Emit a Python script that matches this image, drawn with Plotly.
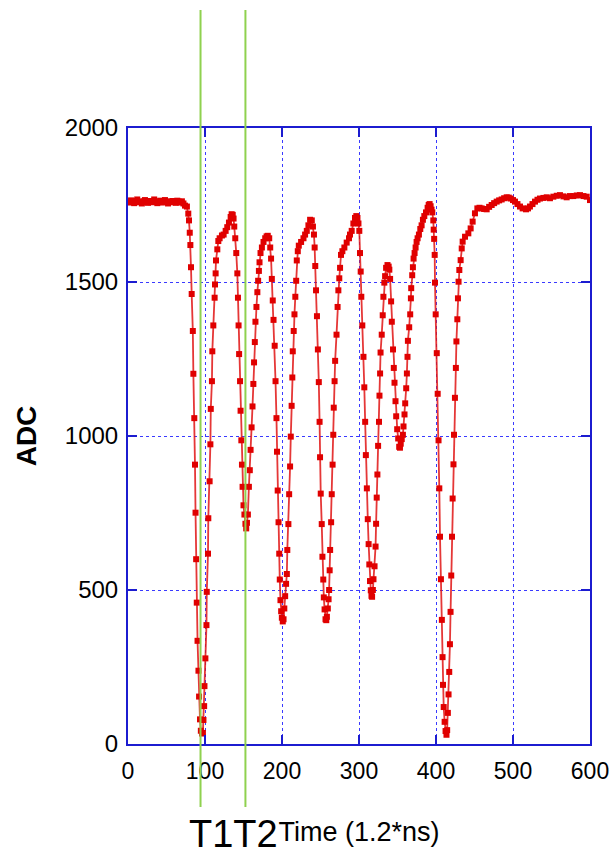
import plotly.graph_objects as go

# ---- data ----
base_x = [0, 2, 4, 6, 8, 10, 12, 14, 16, 18, 20, 22, 24, 26, 28, 30, 32, 34, 36, 38,
          40, 42, 44, 46, 48, 50, 52, 54, 56, 58, 60, 62, 64, 66, 68, 70, 72, 74]
base_y = [1762, 1758, 1765, 1760, 1756, 1763, 1768, 1759, 1761, 1755, 1762, 1766, 1760, 1757,
          1763, 1759, 1761, 1768, 1760, 1756, 1762, 1764, 1758, 1761, 1766, 1760, 1755, 1762,
          1759, 1763, 1760, 1757, 1764, 1761, 1758, 1762, 1755, 1748]

pulse_x = [76.5, 78.3, 79.2, 80.2, 81, 81.8, 82.7, 84.2, 84.9, 86.1, 87, 87.7, 88.5, 89.3, 90.3,
           91.5, 92.3, 93.5, 94.6, 96.2, 97.3, 98, 98.9, 99.3, 100.5, 101.9, 102.3, 103.9, 104.3,
           106, 107, 107.5, 109, 109.5, 110.8, 112.5, 113, 113.8, 114.3, 116, 117.3, 119, 122,
           124.2, 126.8, 128.9, 131.1, 133.3, 134.6, 136, 137.1, 138, 139.3, 140.6, 142, 142.8,
           143.6, 144.3, 145.5, 146.2, 147.2, 148, 148.8, 150, 151.2, 152.5, 153.5, 154.5, 155.7,
           157, 158.2, 159.2, 160.5, 161.7, 162.8, 163.7, 164.7, 165.5, 166.8, 168, 169, 170,
           170.8, 172.1, 173.9, 176, 178.2, 180, 181.5, 183.4, 184.7, 185.8, 186.8, 188, 189,
           190.5, 191.6, 192.8, 193.5, 194.4, 195.5, 196.4, 197.1, 198, 198.9, 199.8, 201, 202,
           203, 204.1, 205.3, 206.3, 206.9, 208.3, 209.3, 210.5, 211.4, 212.5, 213.4, 214, 215.2,
           216.2, 217.3, 218.4, 219.2, 220.5, 221.8, 224.8, 227.9, 230, 232.2, 234.3, 236.5,
           238.7, 240.2, 241.5, 242.4, 243.2, 244.2, 245.4, 246.6, 247.8, 248.8, 249.4, 250.3,
           251.6, 252.5, 253.6, 254.3, 255.3, 256.5, 257.5, 258.3, 259.5, 260.5, 261.2, 261.9,
           262.5, 263.8, 264.6, 265.7, 266.6, 267.2, 268.3, 269, 270.8, 272.2, 273.2, 274.4,
           275.4, 276.6, 278.4, 281, 284, 287, 288.3, 290.5, 292.7, 294.8, 296.5, 298, 299.3,
           300.4, 301.3, 302.2, 303, 304.3, 305.8, 306.9, 308, 308.9, 310.2, 311.4, 312.5, 313.4,
           314.3, 315.3, 316.2, 317, 318, 318.8, 320.2, 321.5, 322.2, 323, 323.9, 324.8, 326,
           326.6, 327.4, 328, 329.5, 330.8, 331.7, 332.9, 333.9, 335.2, 337, 338.5, 339.4, 340.4,
           341.7, 342.6, 344.2, 345.2, 346.1, 347.4, 348.3, 349.6, 350.9, 352.2, 353.2, 354.2,
           355.5, 357, 357.8, 359.1, 360, 361.3, 362.2, 363, 363.5, 365.2, 366.5, 367.4, 367.8,
           369.1, 370, 370.9, 372.2, 373.5, 374.8, 376.1, 377.8, 379.6, 381.3, 383, 384.8, 387,
           389.1, 390.5, 391.7, 393, 394.2, 395.2, 396.5, 397, 397.6, 398.3, 398.7, 399.6, 401,
           402.2, 403.3, 404.3, 405.2, 406.4, 407.6, 408.5, 409.1, 410, 411.2, 412.4, 413.6,
           414.5, 415.4, 416.3, 417.2, 418.1, 418.9, 419.8, 420.8, 421.6, 422.7, 423.4, 424.6,
           425.8, 426.5, 427.7, 428.5, 429.3, 430.3, 432, 433.4, 434.6, 437.7, 442, 445, 447.6,
           450.6, 453.7, 456.5, 459.3, 462.5, 465.8, 469, 472.3, 475.5, 478.8, 482, 485.3, 488.5,
           491.8, 494.5, 497, 500, 502.6, 505.8, 509.1, 512.5, 516.9, 519.5, 522, 525.3, 528.6,
           531.8, 535, 539.5, 543.8, 548, 552.4, 556.8, 561, 565.5, 569.7, 574, 578.4, 582.8,
           587, 591.5, 595.7, 600]
pulse_y = [1745, 1722, 1700, 1660, 1620, 1548, 1461, 1341, 1202, 1058, 907, 751, 600, 459, 335,
           238, 154, 80, 43, 34, 36, 78, 123, 188, 278, 386, 494, 618, 733,
           853, 973, 1088, 1178, 1275, 1359, 1449, 1492, 1528, 1570, 1606, 1633, 1642, 1651,
           1654, 1666, 1678, 1693, 1711, 1720, 1718, 1706, 1680, 1642, 1594, 1528, 1449,
           1359, 1266, 1178, 1082, 986, 907, 835, 775, 745, 715, 700, 718, 745,
           835, 889, 955, 1028, 1096, 1169, 1239, 1305, 1371, 1419, 1467, 1504, 1536,
           1564, 1594, 1612, 1630, 1642, 1648, 1650, 1642, 1612, 1576, 1510, 1440, 1377,
           1293, 1178, 1058, 949, 823, 720, 618, 534, 467, 431, 410, 398, 405,
           440, 480, 520, 552, 630, 714, 811, 901, 998, 1098, 1190, 1275, 1341,
           1395, 1452, 1504, 1570, 1600, 1618, 1630, 1642, 1654, 1666, 1684, 1702,
           1700, 1680, 1654, 1612, 1552, 1473, 1389, 1281, 1175, 1046, 931, 813,
           714, 608, 534, 476, 437, 405, 402, 413, 440, 470, 500, 564,
           630, 720, 811, 907, 1004, 1092, 1178, 1244, 1329, 1419, 1473, 1512,
           1546, 1588, 1600, 1612, 1628, 1642, 1654, 1666, 1690, 1708, 1714, 1708, 1690,
           1666, 1594, 1534, 1452, 1359, 1257, 1158, 1046, 938, 830, 730, 649, 583,
           529, 499, 481, 478, 500, 535, 577, 641, 715, 800, 875, 968, 1046,
           1131, 1203, 1271, 1329, 1392, 1452, 1498, 1519, 1546, 1555, 1550, 1540, 1510,
           1437, 1371, 1281, 1221, 1173, 1113, 1064, 1022, 992, 965, 962, 975,
           990, 1004, 1031, 1070, 1106, 1155, 1203, 1257, 1309, 1353, 1395, 1447, 1480,
           1522, 1548, 1576, 1594, 1612, 1630, 1642, 1654, 1672, 1684, 1702, 1714, 1726,
           1741, 1750, 1753, 1746, 1735, 1726, 1700, 1670, 1640, 1588, 1498, 1395, 1269,
           1137, 986, 830, 673, 535, 403, 282, 192, 120, 72, 42, 30,
           45, 101, 161, 234, 324, 429, 547, 673, 797, 908, 1004, 1124,
           1221, 1307, 1379, 1447, 1501, 1539, 1571, 1609, 1631, 1647, 1658, 1674, 1696,
           1723, 1739, 1741, 1739, 1737, 1736, 1744, 1750, 1756, 1761, 1765, 1768, 1772,
           1775, 1774, 1771, 1766, 1761, 1753, 1745, 1739, 1736, 1739, 1745, 1753, 1761,
           1767, 1771, 1773, 1775, 1772, 1777, 1780, 1782, 1778, 1775, 1779, 1779, 1781,
           1782, 1779, 1777, 1766]

time_x = base_x + pulse_x
adc_y = base_y + pulse_y

marker_times = [94.2, 152.5]          # T1, T2 vertical lines
marker_labels = ["T1T2"]
x_ticks = [0, 100, 200, 300, 400, 500, 600]
y_ticks = [0, 500, 1000, 1500, 2000]

BLUE = "#1c1cd0"
GRID = "#3a3aff"
RED = "#e00000"
GREEN = "#8fd14f"
SANS = "Liberation Sans, Arial, sans-serif"

fig = go.Figure()
fig.add_trace(go.Scatter(
    x=time_x, y=adc_y, mode="lines+markers",
    line=dict(color="rgba(225,20,20,0.85)", width=1.8),
    marker=dict(symbol="square", size=6, color=RED),
    showlegend=False, hoverinfo="skip"))

for t in marker_times:
    fig.add_shape(type="line", xref="x", yref="paper", x0=t, x1=t,
                  y0=-0.1023, y1=1.1916, line=dict(color=GREEN, width=2))

fig.add_annotation(text=marker_labels[0], xref="paper", yref="paper",
                   x=0.2284, y=-0.146, xanchor="center", yanchor="middle",
                   showarrow=False, font=dict(family=SANS, size=38, color="black"))

axis_common = dict(showline=True, linecolor=BLUE, linewidth=2, mirror="allticks",
                   ticks="inside", ticklen=9, tickwidth=2, tickcolor=BLUE,
                   showgrid=True, gridcolor=GRID, gridwidth=1, griddash="dot",
                   zeroline=False, ticklabeloverflow="allow", automargin=False)

fig.update_layout(
    width=612, height=856,
    margin=dict(l=128, r=22, t=128, b=112),
    paper_bgcolor="white", plot_bgcolor="white",
    xaxis=dict(range=[0, 600], tickvals=x_ticks,
               tickfont=dict(family=SANS, size=23, color="black"),
               ticklabelstandoff=5,
               title=dict(text="Time (1.2*ns)", standoff=40,
                          font=dict(family=SANS, size=27, color="black")),
               **axis_common),
    yaxis=dict(range=[0, 2000], tickvals=y_ticks,
               tickfont=dict(family=SANS, size=24, color="black"),
               ticklabelstandoff=3,
               title=dict(text="<b>ADC</b>", standoff=20,
                          font=dict(family=SANS, size=28, color="black")),
               **axis_common),
)

fig.write_html("out.html")
